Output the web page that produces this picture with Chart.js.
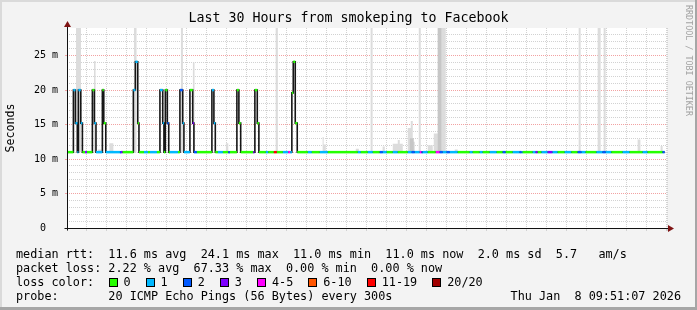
<!DOCTYPE html>
<html>
<head>
<meta charset="utf-8">
<script src="https://cdn.jsdelivr.net/npm/chart.js@4.4.1/dist/chart.umd.min.js"></script>
<style>
html, body { margin: 0; padding: 0; background: #f3f3f3; }
#wrap { position: relative; width: 697px; height: 310px; overflow: hidden; font-family: "DejaVu Sans Mono", monospace; color: #000; }
#wrap canvas { position: absolute; left: 0; top: 0; }
.txt { position: absolute; white-space: pre; font-size: 11.8px; line-height: 14px; }
#title { position: absolute; left: 0; top: 10px; width: 697px; text-align: center; font-size: 13.3px; line-height: 16px; white-space: pre; }
#brand { position: absolute; left: 694px; top: 5px; transform: rotate(90deg); transform-origin: 0 0; font-size: 8.4px; line-height: 10px; color: #a2a2a2; white-space: pre; }
#lossKey { position: absolute; left: 108.5px; top: 275px; display: flex; align-items: center; height: 14px; font-size: 11.8px; white-space: pre; }
#lossKey .box { width: 7px; height: 7px; border: 1px solid #000; margin-right: 6px; }
#lossKey .lab { margin-right: 15px; }
.edge { position: absolute; }
</style>
</head>
<body>
<div id="wrap">
  <canvas id="chart" width="697" height="310"></canvas>
  <div id="title">Last 30 Hours from smokeping to Facebook</div>
  <div id="brand">RRDTOOL / TOBI OETIKER</div>
  <div class="txt" style="left:16px;top:247px">median rtt:  11.6 ms avg  24.1 ms max  11.0 ms min  11.0 ms now  2.0 ms sd  5.7   am/s</div>
  <div class="txt" style="left:16px;top:261px">packet loss: 2.22 % avg  67.33 % max  0.00 % min  0.00 % now</div>
  <div class="txt" style="left:16px;top:275px">loss color:</div>
  <div id="lossKey"></div>
  <div class="txt" style="left:16px;top:289px">probe:       20 ICMP Echo Pings (56 Bytes) every 300s</div>
  <div class="txt" style="right:16px;top:289px">Thu Jan  8 09:51:07 2026</div>
  <div class="edge" style="left:0;top:0;width:697px;height:2px;background:#dadada"></div>
  <div class="edge" style="left:0;top:0;width:2px;height:310px;background:#dadada"></div>
  <div class="edge" style="right:0;top:0;width:2px;height:310px;background:#a6a6a6"></div>
  <div class="edge" style="left:0;bottom:0;width:697px;height:3px;background:#a6a6a6"></div>
</div>
<script>
// time is in hours since Wed 00:00
var tickHours = [6, 12, 18, 24, 30];
var tickLabels = ['Wed 06:00', 'Wed 12:00', 'Wed 18:00', 'Thu 00:00', 'Thu 06:00'];

// median rtt (ms), each value holds from its hour until the next one
var medianSteps = [
    [3.95, 11.0],
    [4.27, 20.0], [4.37, 15.2], [4.47, 11.0], [4.52, 20.0], [4.64, 15.2], [4.72, 11.0],
    [5.22, 20.0], [5.32, 15.2], [5.40, 11.0],
    [5.72, 20.0], [5.79, 15.2], [5.89, 11.0],
    [7.27, 20.0], [7.37, 24.1], [7.49, 15.2], [7.55, 11.0],
    [8.60, 20.0], [8.74, 15.2], [8.80, 11.0], [8.87, 20.0], [8.97, 15.2], [9.04, 11.0],
    [9.60, 20.0], [9.74, 15.2], [9.80, 11.0],
    [10.10, 20.0], [10.24, 15.2], [10.30, 11.0],
    [11.20, 20.0], [11.30, 15.2], [11.37, 11.0],
    [12.45, 20.0], [12.55, 15.2], [12.64, 11.0],
    [13.35, 20.0], [13.47, 15.2], [13.55, 11.0],
    [15.20, 19.6], [15.27, 24.1], [15.37, 15.2], [15.47, 11.0],
    [33.85, 11.0]
];

// packet loss class, each holds from its hour until the next one
var lossChanges = [
    [3.95, 1], [4.00, 0], [4.27, 1], [4.72, 0], [4.85, 3], [4.95, 0], [5.32, 1], [5.72, 0],
    [5.89, 1], [6.60, 2], [6.65, 3], [6.73, 0], [7.27, 1], [7.49, 0], [7.80, 1], [8.00, 0],
    [8.10, 1], [8.45, 0], [8.60, 1], [8.80, 0], [8.97, 2], [9.04, 0], [9.10, 1], [9.50, 0],
    [9.60, 2], [9.74, 1], [10.10, 0], [10.24, 3], [10.30, 2], [10.45, 0], [11.20, 1], [11.37, 0],
    [11.50, 1], [11.75, 0], [12.02, 2], [12.10, 0], [13.27, 3], [13.33, 2], [13.35, 0], [13.90, 1],
    [14.02, 0], [14.30, 6], [14.45, 0], [14.75, 1], [15.02, 4], [15.12, 1], [15.20, 0], [16.00, 1],
    [16.20, 0], [16.60, 1], [17.00, 0], [18.50, 1], [18.65, 0], [19.00, 1], [19.25, 0], [19.60, 2],
    [19.75, 1], [19.95, 0], [20.25, 1], [20.50, 0], [21.00, 1], [21.20, 2], [21.35, 1], [21.60, 4],
    [21.69, 2], [21.75, 1], [22.00, 0], [22.40, 4], [22.60, 2], [22.75, 1], [22.95, 2], [23.10, 1],
    [23.50, 0], [24.10, 1], [24.25, 0], [24.60, 1], [24.75, 0], [25.10, 1], [25.45, 0], [25.75, 2],
    [25.90, 0], [26.25, 1], [26.60, 2], [26.69, 1], [26.75, 0], [27.25, 1], [27.40, 3], [27.50, 0],
    [27.69, 1], [28.00, 3], [28.24, 1], [28.50, 0], [28.85, 1], [29.19, 0], [29.50, 2], [29.69, 1],
    [29.90, 0], [30.44, 1], [30.75, 2], [30.90, 1], [31.19, 0], [31.75, 1], [32.10, 0], [32.75, 1],
    [33.00, 0], [33.75, 2]
];

// smoke: [from hour, to hour, top ms], drawn down to the 11 ms floor
var smokeLight = [
    [4.40, 4.65, 29], [5.30, 5.38, 24.2], [5.50, 5.68, 11.4], [6.07, 6.27, 12.3], [7.30, 7.43, 29],
    [9.65, 9.75, 29], [10.25, 10.33, 24.0], [11.90, 12.02, 12.3], [14.39, 14.50, 29],
    [16.74, 16.79, 13.2], [16.79, 16.90, 12.1], [18.40, 18.55, 11.5], [19.14, 19.24, 29],
    [19.74, 19.85, 11.8], [20.25, 20.50, 12.2], [20.50, 20.60, 12.75], [20.60, 20.75, 12.2],
    [21.00, 21.15, 14.5], [21.15, 21.25, 15.5], [21.25, 21.35, 12.5], [21.55, 21.65, 29],
    [22.00, 22.25, 12.0], [22.30, 22.50, 13.7], [22.50, 22.90, 29], [23.35, 23.50, 11.4],
    [29.55, 29.65, 29], [30.50, 30.65, 29], [30.80, 30.90, 29], [32.50, 32.64, 12.85], [33.65, 33.75, 11.9]
];
var smokeDark = [[21.10, 21.30, 13.0], [22.50, 22.68, 29]];
var smokeFloor = 11.0;

var lossLabels = ['0', '1', '2', '3', '4-5', '6-10', '11-19', '20/20'];
var lossColors = ['#26ff00', '#00b8ff', '#0059ff', '#7e00ff', '#ff00ff', '#ff5500', '#ff0000', '#a10000'];

// legend key for loss colours
var key = document.getElementById('lossKey');
lossLabels.forEach(function(lab, i) {
    var b = document.createElement('span');
    b.className = 'box';
    b.style.background = lossColors[i];
    var t = document.createElement('span');
    t.className = 'lab';
    t.textContent = lab;
    key.appendChild(b);
    key.appendChild(t);
});

function stepAt(list, h) {
    var v = list[0][1];
    for (var i = 0; i < list.length; i++) {
        if (list[i][0] <= h) v = list[i][1]; else break;
    }
    return v;
}

function smokePoints(list) {
    var pts = [{ x: 3.95, y: smokeFloor }];
    list.forEach(function(s) {
        pts.push({ x: s[0], y: s[2] });
        pts.push({ x: s[1], y: smokeFloor });
    });
    pts.push({ x: 33.85, y: smokeFloor });
    return pts;
}

var medianPts = medianSteps.map(function(d) { return { x: d[0], y: d[1] }; });

// horizontal pieces of the median, coloured by loss
var breaks = medianSteps.map(function(d) { return d[0]; })
    .concat(lossChanges.map(function(d) { return d[0]; }))
    .filter(function(v, i, a) { return a.indexOf(v) === i; })
    .sort(function(a, b) { return a - b; });
var lossPts = [];
for (var i = 0; i < breaks.length - 1; i++) {
    var v = stepAt(medianSteps, breaks[i]);
    lossPts.push({ x: breaks[i], y: v, c: stepAt(lossChanges, breaks[i]) });
    lossPts.push({ x: breaks[i + 1], y: v });
    lossPts.push({ x: breaks[i + 1], y: null });
}

var minorGrid = '#d2d2d2';
var majorGrid = '#f2a2a2';

var plotBackground = {
    id: 'plotBackground',
    beforeDraw: function(chart) {
        var a = chart.chartArea, ctx = chart.ctx;
        ctx.save();
        ctx.fillStyle = '#ffffff';
        ctx.fillRect(a.left, a.top, a.right - a.left, a.bottom - a.top);
        ctx.restore();
    }
};

var axisArrows = {
    id: 'axisArrows',
    afterDraw: function(chart) {
        var a = chart.chartArea, ctx = chart.ctx;
        var x0 = Math.round(a.left) + 0.5, y0 = Math.round(a.bottom) + 0.5;
        ctx.save();
        ctx.lineWidth = 1;
        ctx.strokeStyle = '#111';
        ctx.beginPath();
        ctx.moveTo(x0 - 3, y0);
        ctx.lineTo(a.right + 3, y0);
        ctx.moveTo(x0, y0 + 2);
        ctx.lineTo(x0, a.top - 3);
        ctx.stroke();
        ctx.fillStyle = '#7f1414';
        ctx.beginPath();
        ctx.moveTo(a.right + 1, y0 - 3.5);
        ctx.lineTo(a.right + 7, y0);
        ctx.lineTo(a.right + 1, y0 + 3.5);
        ctx.closePath();
        ctx.fill();
        ctx.beginPath();
        ctx.moveTo(x0 - 3.5, a.top - 1);
        ctx.lineTo(x0, a.top - 7);
        ctx.lineTo(x0 + 3.5, a.top - 1);
        ctx.closePath();
        ctx.fill();
        ctx.restore();
    }
};

Chart.defaults.color = '#000';
Chart.defaults.font.family = '"DejaVu Sans Mono", monospace';

var chart = new Chart(document.getElementById('chart').getContext('2d'), {
    type: 'line',
    data: {
        datasets: [
            {
                label: 'loss',
                data: lossPts,
                borderWidth: 2.5,
                borderColor: lossColors[0],
                borderCapStyle: 'butt',
                pointRadius: 0,
                spanGaps: false,
                segment: {
                    borderColor: function(ctx) { return lossColors[lossPts[ctx.p0DataIndex].c]; }
                }
            },
            {
                label: 'median',
                data: medianPts,
                stepped: 'before',
                borderWidth: 1.6,
                borderColor: '#161616',
                pointRadius: 0
            },
            {
                label: 'smoke dark',
                data: smokePoints(smokeDark),
                stepped: 'before',
                borderWidth: 0,
                borderColor: 'rgba(0,0,0,0)',
                backgroundColor: '#c6c6c6',
                fill: { value: smokeFloor },
                pointRadius: 0
            },
            {
                label: 'smoke',
                data: smokePoints(smokeLight),
                stepped: 'before',
                borderWidth: 0,
                borderColor: 'rgba(0,0,0,0)',
                backgroundColor: '#dcdcdc',
                fill: { value: smokeFloor },
                pointRadius: 0
            }
        ]
    },
    options: {
        responsive: false,
        animation: false,
        events: [],
        layout: { padding: { top: 28, right: 30, bottom: 0, left: 0 } },
        plugins: { legend: { display: false }, tooltip: { enabled: false } },
        scales: {
            x: {
                type: 'linear',
                min: 3.95,
                max: 33.97,
                bounds: 'data',
                afterFit: function(scale) { scale.height = 82; },
                border: { display: false, dash: [1, 1] },
                grid: {
                    color: function(ctx) { return ctx.tick.value % 3 === 0 ? majorGrid : minorGrid; },
                    tickColor: function(ctx) { return ctx.tick.value % 3 === 0 ? majorGrid : minorGrid; },
                    tickLength: 3
                },
                ticks: {
                    stepSize: 1,
                    includeBounds: false,
                    autoSkip: false,
                    maxRotation: 0,
                    padding: 1,
                    font: { size: 10 },
                    callback: function(v) {
                        var k = tickHours.indexOf(v);
                        return k >= 0 ? tickLabels[k] : '';
                    }
                }
            },
            y: {
                min: 0,
                max: 29,
                afterFit: function(scale) { scale.width = 67; },
                border: { display: false, dash: [1, 1] },
                title: { display: true, text: 'Seconds', font: { size: 11.6 }, padding: { top: 4, bottom: 4 } },
                grid: {
                    color: function(ctx) {
                        var v = ctx.tick.value;
                        if (v === 0 || v >= 29) return 'rgba(0,0,0,0)';
                        return v % 5 === 0 ? majorGrid : minorGrid;
                    },
                    tickColor: function(ctx) { return ctx.tick.value % 5 === 0 ? majorGrid : 'rgba(0,0,0,0)'; },
                    tickLength: 2
                },
                ticks: {
                    stepSize: 1,
                    includeBounds: false,
                    autoSkip: false,
                    padding: 7,
                    font: { size: 10 },
                    callback: function(v) {
                        if (v % 5 !== 0) return '';
                        return v === 0 ? '0  ' : v + ' m';
                    }
                }
            }
        }
    },
    plugins: [plotBackground, axisArrows]
});
</script>
</body>
</html>
